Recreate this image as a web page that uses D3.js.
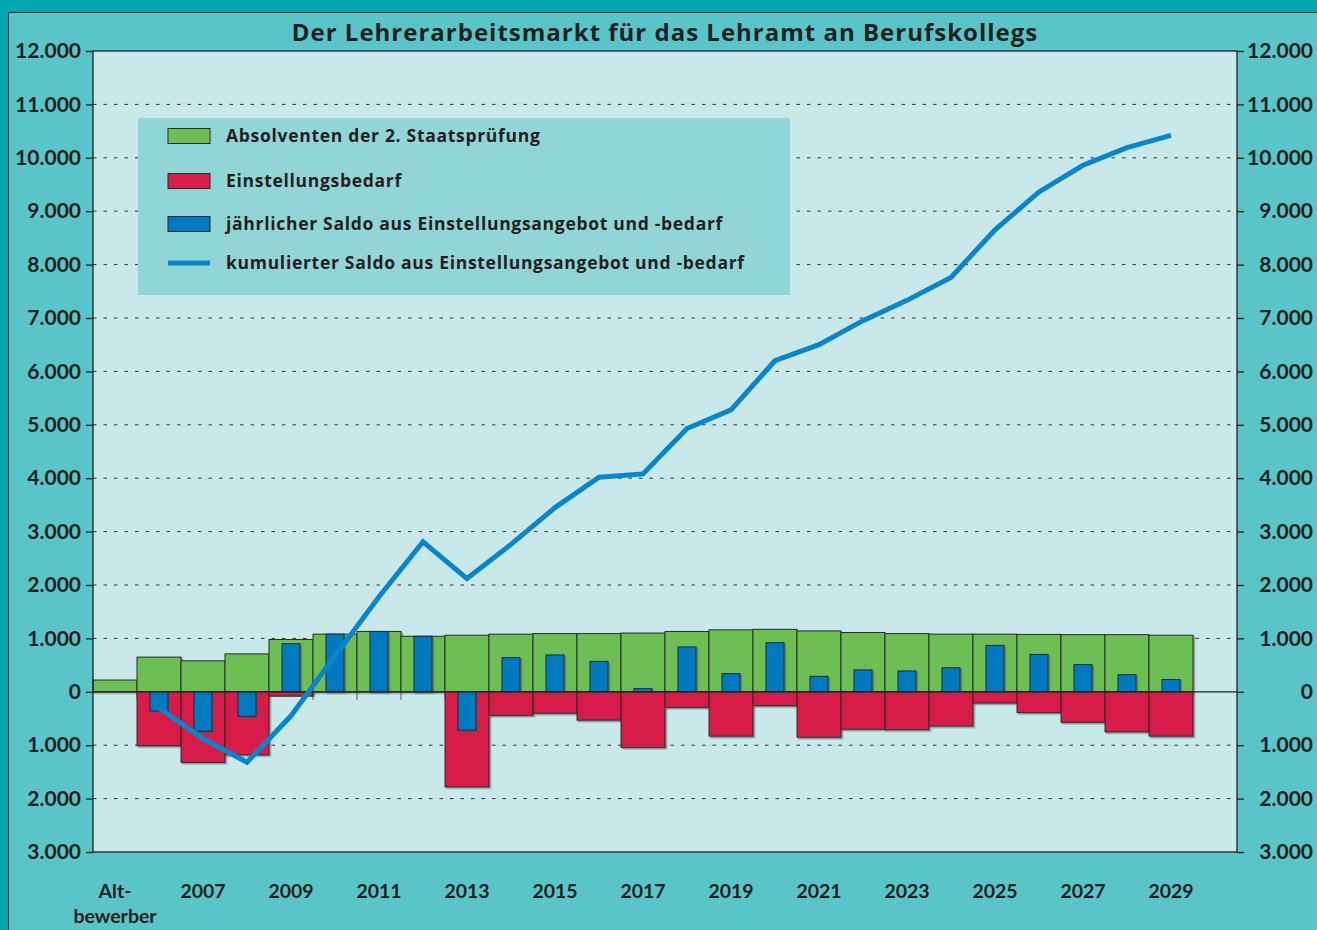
<!DOCTYPE html>
<html>
<head>
<meta charset="utf-8">
<script src="https://cdn.jsdelivr.net/npm/d3@7"></script>
<style>
  body { margin: 0; background: #00a8ad; }
  text { font-family: Lato, "Noto Sans", sans-serif; font-weight: bold; fill: #231f20; }
  .wide { font-family: "Open Sans", Lato, sans-serif; font-weight: bold; }
</style>
</head>
<body>
<div id="chart"></div>
<script>
// Kategorien (Altbewerber + Jahre)
const categories = ["Alt-bewerber", "2006", "2007", "2008", "2009", "2010", "2011", "2012", "2013",
  "2014", "2015", "2016", "2017", "2018", "2019", "2020", "2021", "2022", "2023", "2024",
  "2025", "2026", "2027", "2028", "2029"];

// Absolventen der 2. Staatsprüfung
const absolventen = [220, 650, 580, 710, 980, 1080, 1130, 1040, 1060, 1080, 1090, 1090, 1100,
  1130, 1160, 1170, 1140, 1110, 1090, 1080, 1080, 1075, 1070, 1070, 1060];

// Einstellungsbedarf (negativ)
const einstellungsbedarf = [0, -1010, -1320, -1180, -80, 0, 0, 0, -1780, -440, -400, -530, -1040,
  -290, -830, -260, -850, -700, -710, -640, -210, -390, -570, -750, -830];

// jährlicher Saldo
const saldo = [null, -360, -740, -460, 900, 1080, 1130, 1040, -720, 640, 690, 570, 60,
  840, 340, 920, 290, 410, 390, 450, 870, 700, 510, 320, 230];

// kumulierter Saldo
const kumuliert = [null, -300, -880, -1320, -450, 670, 1780, 2810, 2120, 2760, 3450, 4020, 4080,
  4930, 5280, 6200, 6500, 6950, 7330, 7760, 8650, 9360, 9860, 10190, 10420];

const yTicks = d3.range(-3000, 12001, 1000);
const xLabels = ["Alt-bewerber", "2007", "2009", "2011", "2013", "2015", "2017", "2019",
  "2021", "2023", "2025", "2027", "2029"];

const legendItems = [
  { label: "Absolventen der 2. Staatsprüfung", color: "#6dbf54", type: "rect" },
  { label: "Einstellungsbedarf", color: "#d81f49", type: "rect" },
  { label: "jährlicher Saldo aus Einstellungsangebot und -bedarf", color: "#0079c0", type: "rect" },
  { label: "kumulierter Saldo aus Einstellungsangebot und -bedarf", color: "#0a85cb", type: "line" }
];

const width = 1317;
const height = 930;
const margin = { top: 51, right: 80, bottom: 78, left: 93 };
const graphWidth = width - margin.left - margin.right;
const graphHeight = height - margin.top - margin.bottom;

const data = categories.map((c, i) => ({
  cat: c,
  abs: absolventen[i],
  bed: einstellungsbedarf[i],
  saldo: saldo[i],
  kum: kumuliert[i]
}));

// Skalen (letzter Platz bleibt leer)
const x = d3.scaleBand()
  .domain([...categories, "leer"])
  .range([0, graphWidth])
  .padding(0);

const y = d3.scaleLinear()
  .domain([-3000, 12000])
  .range([graphHeight, 0]);

const de = d3.formatLocale({ decimal: ",", thousands: ".", grouping: [3], currency: ["", " €"] });
const fmt = (d) => de.format(",")(Math.abs(d));

const root = d3.select("#chart")
  .append("svg")
  .attr("width", width)
  .attr("height", height);

// Schatten für die Balken
const defs = root.append("defs");
const f = defs.append("filter").attr("id", "shadow")
  .attr("x", "-10%").attr("y", "-10%").attr("width", "130%").attr("height", "130%");
f.append("feDropShadow").attr("dx", 1.5).attr("dy", 1.5).attr("stdDeviation", 0.6)
  .attr("flood-color", "#555").attr("flood-opacity", 0.6);

// Hintergrund
root.append("rect").attr("width", width).attr("height", height).attr("fill", "#00a8ad");
root.append("rect")
  .attr("x", 8.5).attr("y", 12.5)
  .attr("width", width).attr("height", height)
  .attr("fill", "#59c5c8")
  .attr("stroke", "#1d2b2b")
  .attr("stroke-width", 1);

// Titel
root.append("text")
  .attr("class", "wide")
  .attr("x", margin.left + graphWidth / 2)
  .attr("y", 41)
  .attr("text-anchor", "middle")
  .style("font-size", "24px")
  .style("letter-spacing", "1px")
  .text("Der Lehrerarbeitsmarkt für das Lehramt an Berufskollegs");

const svg = root.append("g")
  .attr("transform", `translate(${margin.left}, ${margin.top})`);

// Diagrammfläche
svg.append("rect")
  .attr("width", graphWidth)
  .attr("height", graphHeight)
  .attr("fill", "#c9e8ea");

// Gitterlinien
svg.append("g")
  .selectAll("line")
  .data(yTicks.filter((d) => d !== 0 && d !== -3000 && d !== 12000))
  .enter()
  .append("line")
  .attr("x1", 0)
  .attr("x2", graphWidth)
  .attr("y1", (d) => y(d))
  .attr("y2", (d) => y(d))
  .attr("stroke", "#333")
  .attr("stroke-width", 1)
  .attr("stroke-dasharray", "3.5,7");

// kleine Teilstriche an der Nulllinie
svg.append("g")
  .selectAll("line")
  .data(categories.slice(1))
  .enter()
  .append("line")
  .attr("x1", (d) => x(d))
  .attr("x2", (d) => x(d))
  .attr("y1", y(0))
  .attr("y2", y(0) + 8)
  .attr("stroke", "#555");

// Absolventen
svg.append("g")
  .selectAll("rect")
  .data(data)
  .enter()
  .append("rect")
  .attr("x", (d) => x(d.cat))
  .attr("y", (d) => y(d.abs))
  .attr("width", x.bandwidth())
  .attr("height", (d) => y(0) - y(d.abs))
  .attr("fill", "#6dbf54")
  .attr("stroke", "#2a2a2a")
  .attr("stroke-width", 1)
  .attr("filter", "url(#shadow)");

// Einstellungsbedarf
svg.append("g")
  .selectAll("rect")
  .data(data.filter((d) => d.bed < 0))
  .enter()
  .append("rect")
  .attr("x", (d) => x(d.cat))
  .attr("y", y(0))
  .attr("width", x.bandwidth())
  .attr("height", (d) => y(d.bed) - y(0))
  .attr("fill", "#d81f49")
  .attr("stroke", "#2a2a2a")
  .attr("stroke-width", 1)
  .attr("filter", "url(#shadow)");

// jährlicher Saldo
const bw = x.bandwidth() * 0.41;
svg.append("g")
  .selectAll("rect")
  .data(data.filter((d) => d.saldo !== null))
  .enter()
  .append("rect")
  .attr("x", (d) => x(d.cat) + (x.bandwidth() - bw) / 2)
  .attr("y", (d) => y(Math.max(0, d.saldo)))
  .attr("width", bw)
  .attr("height", (d) => Math.abs(y(d.saldo) - y(0)))
  .attr("fill", "#0079c0")
  .attr("stroke", "#1f2a33")
  .attr("stroke-width", 1)
  .attr("filter", "url(#shadow)");

// Nulllinie
svg.append("line")
  .attr("x1", 0).attr("x2", graphWidth)
  .attr("y1", y(0)).attr("y2", y(0))
  .attr("stroke", "#231f20")
  .attr("stroke-width", 1.3);

// kumulierter Saldo
const line = d3.line()
  .defined((d) => d.kum !== null)
  .x((d) => x(d.cat) + x.bandwidth() / 2)
  .y((d) => y(d.kum));

svg.append("path")
  .datum(data)
  .attr("d", line)
  .attr("fill", "none")
  .attr("stroke", "#0a85cb")
  .attr("stroke-width", 5)
  .attr("stroke-linejoin", "miter");

// Rahmen
svg.append("rect")
  .attr("width", graphWidth)
  .attr("height", graphHeight)
  .attr("fill", "none")
  .attr("stroke", "#231f20")
  .attr("stroke-width", 1.3);

// Achsen
const yLeft = svg.append("g")
  .call(d3.axisLeft(y).tickValues(yTicks).tickFormat(fmt).tickSize(7).tickSizeOuter(0).tickPadding(5));
const yRight = svg.append("g")
  .attr("transform", `translate(${graphWidth}, 0)`)
  .call(d3.axisRight(y).tickValues(yTicks).tickFormat(fmt).tickSize(7).tickSizeOuter(0));
yRight.selectAll("text").attr("text-anchor", "end").attr("x", 76);

[yLeft, yRight].forEach((a) => {
  a.selectAll("path").remove();
  a.selectAll("line").attr("stroke", "#231f20").attr("stroke-width", 1.3);
  a.selectAll("text").attr("font-family", null).attr("font-size", null)
    .style("font-size", "21px").attr("fill", "#231f20");
});

const xAxis = svg.append("g")
  .attr("transform", `translate(0, ${graphHeight})`)
  .call(d3.axisBottom(x).tickValues(xLabels).tickSize(0).tickPadding(32));
xAxis.select("path").remove();
xAxis.selectAll("text")
  .attr("font-family", null).attr("font-size", null)
  .style("font-size", "19.5px")
  .attr("fill", "#231f20")
  .each(function (d) {
    if (d === "Alt-bewerber") {
      const t = d3.select(this).text(null);
      t.append("tspan").attr("x", 0).attr("dy", "0.71em").text("Alt-");
      t.append("tspan").attr("x", 0).attr("dy", "1.3em").text("bewerber");
    }
  });

// Legende
const lg = root.append("g");
lg.append("rect")
  .attr("x", 138).attr("y", 118)
  .attr("width", 652).attr("height", 177)
  .attr("fill", "#92d5d7");

const rowY = [136, 181, 224, 263];
const items = lg.selectAll(".item")
  .data(legendItems)
  .enter()
  .append("g")
  .attr("transform", (d, i) => `translate(168, ${rowY[i]})`);

items.filter((d) => d.type === "rect")
  .append("rect")
  .attr("x", 0).attr("y", -7.5)
  .attr("width", 42).attr("height", 15)
  .attr("fill", (d) => d.color)
  .attr("stroke", "#2a2a2a")
  .attr("stroke-width", 1);

items.filter((d) => d.type === "line")
  .append("line")
  .attr("x1", 0).attr("x2", 42)
  .attr("y1", 0).attr("y2", 0)
  .attr("stroke", (d) => d.color)
  .attr("stroke-width", 5);

items.append("text")
  .attr("class", "wide")
  .attr("x", 58)
  .attr("dy", "0.35em")
  .style("font-size", "17.5px")
  .style("letter-spacing", "0.7px")
  .text((d) => d.label);
</script>
</body>
</html>
